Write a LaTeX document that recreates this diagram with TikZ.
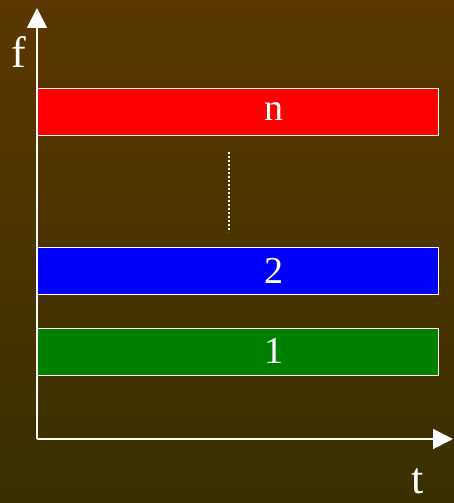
\documentclass[tikz,border=0pt]{standalone}
\usepackage{fontspec}
\setmainfont{Liberation Serif}
\usetikzlibrary{arrows.meta}
\definecolor{bgtop}{RGB}{92,55,0}
\definecolor{bgbot}{RGB}{56,48,0}
\definecolor{bgreen}{RGB}{0,128,0}
\tikzset{
  band/.style={draw=white, line width=1pt, minimum width=401pt, minimum height=47pt, inner sep=0pt, anchor=north west},
  bandlabel/.style={text=white, font=\fontsize{38}{38}\selectfont},
  axis/.style={draw=white, line width=1.8pt, -{Triangle[width=20pt,length=20pt]}},
}
\begin{document}
\begin{tikzpicture}[x=1pt,y=1pt]
\shade[top color=bgtop, bottom color=bgbot] (0,0) rectangle (454,503);
\useasboundingbox (0,0) rectangle (454,503);
\coordinate (O) at (37,64);
\coordinate (ytip) at (37,495);
\coordinate (xtip) at (453,64);
\draw[axis] (O) -- (ytip);
\draw[axis] (O) -- (xtip);
\node[text=white, font=\fontsize{44}{44}\selectfont] (f) at (19,451) {f};
\node[text=white, font=\fontsize{44}{44}\selectfont] (t) at (418,22) {t};
\node[band, fill=red] (bn) at (37,415) {};
\node[band, fill=blue] (b2) at (37,256) {};
\node[band, fill=bgreen] (b1) at (37,175) {};
\node[bandlabel] (ln) at (274,391) {n};
\node[bandlabel] (l2) at (274,232) {2};
\node[bandlabel] (l1) at (274,152) {1};
\coordinate (d1) at (229,351);
\coordinate (d2) at (229,271);
\draw[white, line width=1.2pt, dash pattern=on 2pt off 2pt] (d1) -- (d2);
\end{tikzpicture}
\end{document}
